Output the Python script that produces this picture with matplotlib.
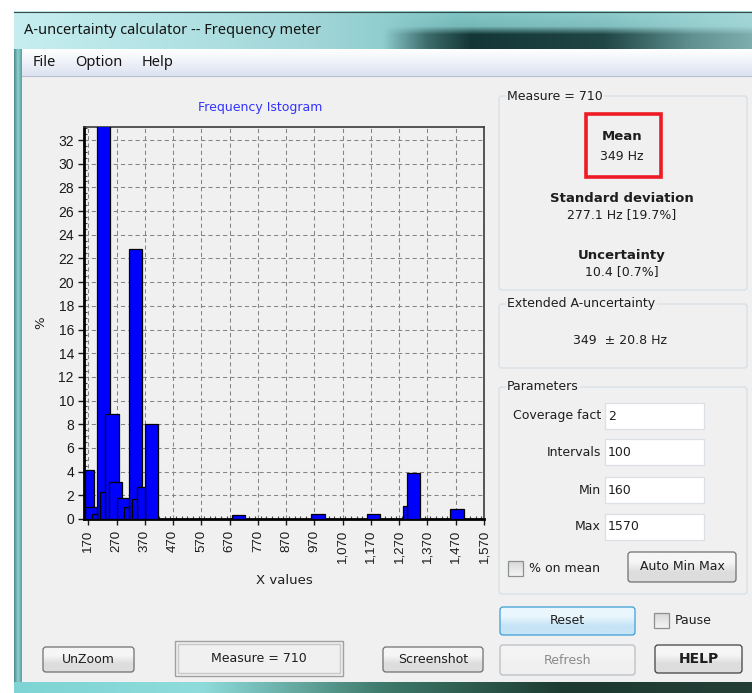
"""
Frequency meter window: histogram of the measured frequencies
plus the statistics panel drawn around it.
"""

import numpy as np
import matplotlib.pyplot as plt
from matplotlib.colors import to_rgb
from matplotlib.patches import Rectangle, FancyBboxPatch
from matplotlib.ticker import MultipleLocator, FuncFormatter

# histogram bars: left edge, right edge (Hz) and share of measures (%)
bin_left = [157, 157, 185, 202, 212, 229, 243, 271, 297, 313, 324, 341, 370,
            679, 959, 1156, 1282, 1296, 1450]
bin_right = [191, 202, 202, 248, 229, 277, 290, 314, 313, 361, 341, 370, 417,
             726, 1009, 1203, 1296, 1343, 1499]
pct = [4.14, 1.0, 0.42, 36.0, 2.3, 8.85, 3.1, 1.75, 1.0, 22.8, 1.66, 2.68, 8.05,
       0.34, 0.45, 0.45, 1.1, 3.9, 0.87]

x_ticks = [170, 270, 370, 470, 570, 670, 770, 870, 970, 1070, 1170, 1270, 1370, 1470, 1570]
x_range = (156, 1570)
y_range = (0, 33.1)

# statistics shown in the right panel
n_measures = 710
mean_hz = "349 Hz"
std_text = "277.1 Hz [19.7%]"
unc_text = "10.4 [0.7%]"
ext_text = "349  \u00b1 20.8 Hz"
param_names = ["Coverage fact", "Intervals", "Min", "Max"]
param_values = ["2", "100", "160", "1570"]

UI = "DejaVu Sans"
W, H = 752, 693

fig = plt.figure(figsize=(W / 100, H / 100), dpi=100)
fig.patch.set_facecolor("white")

# background axes in pixel units for the window chrome
bg = fig.add_axes([0, 0, 1, 1])
bg.set_xlim(0, W)
bg.set_ylim(H, 0)
bg.axis("off")


def ramp(colors, n=64):
    cols = np.array([to_rgb(c) for c in colors])
    t = np.linspace(0, 1, n)
    pos = np.linspace(0, 1, len(cols))
    return np.stack([np.interp(t, pos, cols[:, k]) for k in range(3)], axis=-1)


def gradient(x0, y0, x1, y1, colors, horizontal=True, z=1):
    arr = ramp(colors)
    arr = arr[None, :, :] if horizontal else arr[:, None, :]
    bg.imshow(arr, extent=(x0, x1, y1, y0), aspect="auto", zorder=z,
              interpolation="bilinear")


def box(x, y, w, h, face, edge, lw=1.0, r=3, z=3):
    p = FancyBboxPatch((x, y), w, h, boxstyle=f"round,pad=0,rounding_size={r}",
                       facecolor=face, edgecolor=edge, linewidth=lw, zorder=z)
    bg.add_patch(p)
    return p


def txt(x, y, s, size=8.5, ha="left", weight="normal", color="#1e1e1e",
        family=UI, z=6):
    bg.text(x, y, s, fontsize=size, ha=ha, va="center", fontweight=weight,
            color=color, family=family, zorder=z)


def button(x, y, w, h, s, edge="#707070", top="#f6f6f6", bottom="#dddddd",
           color="#1e1e1e", weight="normal", size=8.5):
    gradient(x, y, x + w, y + h, [top, top, bottom, bottom], horizontal=False, z=3)
    box(x, y, w, h, "none", edge, lw=0.9, r=3, z=4)
    txt(x + w / 2, y + h / 2, s, ha="center", color=color, weight=weight, size=size)


def checkbox(x, y, s):
    gradient(x, y, x + 15, y + 15, ["#d8d8d8", "#f4f4f4"], horizontal=False, z=3)
    bg.add_patch(Rectangle((x, y), 15, 15, facecolor="none", edgecolor="#8e8f8f",
                           linewidth=0.9, zorder=4))
    txt(x + 21, y + 8, s, size=9)


def groupbox(x, y, w, h, title):
    box(x, y, w, h, "#f0f0f0", "#d5dfe5", lw=0.9, r=3, z=2)
    bg.text(x + 8, y, title, fontsize=9, ha="left", va="center", family=UI,
            color="#1e1e1e", zorder=6,
            bbox=dict(facecolor="#f0f0f0", edgecolor="none", pad=1))


# title bar: aero glass with a blurred dark band on the right
tb_w, tb_h = 370, 38
base = ramp(["#c6eef0", "#b4e3e5", "#a2d6d8", "#80c6c6", "#8ccccc", "#a4d8d8"], tb_w)
xs = np.linspace(0, 1, tb_w)
band = np.clip(np.interp(xs, [0, 0.5, 0.56, 0.62, 0.8, 0.92, 1.0],
                         [0, 0, 0.6, 0.95, 0.85, 0.4, 0.25]), 0, 1)
ys = np.linspace(0, 1, tb_h)
vert = np.interp(ys, [0, 0.4, 0.62, 1.0], [0, 0.1, 1, 1])
mask = vert[:, None] * band[None, :]
dark = np.array(to_rgb("#0e2e2e"))
img = base[None, :, :] * (1 - mask[..., None]) + dark * mask[..., None]
bg.imshow(img, extent=(14, W, 49, 11), aspect="auto", zorder=1,
          interpolation="bilinear")
bg.plot([14, W], [11.5, 11.5], color="#3a4a4a", lw=0.8, zorder=2)

# window borders and menu bar
gradient(14, 49, 22, 690, ["#4a8888", "#8fd0d0", "#5aa0a0"], z=1)
gradient(14, 682, W, 693, ["#7ed4d4", "#8fdcdc", "#3e7a6a", "#1c3a30", "#243e36"], z=1)
gradient(22, 49, W, 76, ["#ffffff", "#eef1f8", "#dce2f1"], horizontal=False, z=1)
bg.plot([22, W], [75.5, 75.5], color="#b8c0d0", lw=0.8, zorder=2)
bg.add_patch(Rectangle((22, 76), W - 22, 606, facecolor="#f0f0f0",
                       edgecolor="none", zorder=1))
txt(24, 31, "A-uncertainty calculator -- Frequency meter", size=10.5,
    family="Noto Sans", color="#141414")
for name, xm in zip(["File", "Option", "Help"], [33, 75, 142]):
    txt(xm, 63, name, size=10.5, family="Noto Sans", color="#141414")

# statistics panel
groupbox(499, 96, 248, 194, f"Measure = {n_measures}")
bg.add_patch(Rectangle((586, 114), 75, 63, facecolor="none", edgecolor="#ed1c24",
                       linewidth=2.6, zorder=5))
txt(622, 137, "Mean", weight="bold", ha="center", size=9.5)
txt(622, 157, mean_hz, ha="center", size=9)
txt(622, 198, "Standard deviation", weight="bold", ha="center", size=9.5)
txt(622, 215, std_text, ha="center", size=9)
txt(622, 255, "Uncertainty", weight="bold", ha="center", size=9.5)
txt(622, 272, unc_text, ha="center", size=9)

groupbox(499, 304, 248, 64, "Extended A-uncertainty")
txt(620, 340, ext_text, ha="center", size=9)

groupbox(499, 387, 248, 207, "Parameters")
for k, (name, val) in enumerate(zip(param_names, param_values)):
    yc = [416, 452, 490, 527][k]
    txt(601, yc, name, ha="right", size=9)
    bg.add_patch(Rectangle((605, yc - 13), 99, 26, facecolor="white",
                           edgecolor="#dbdfe6", linewidth=0.9, zorder=4))
    txt(608, yc, val, size=9)
checkbox(508, 561, "% on mean")
button(628, 552, 108, 30, "Auto Min Max", size=9)

button(500, 607, 135, 28, "Reset", edge="#3c9fd6", top="#eaf6fd", bottom="#c6e4f6",
       size=9)
checkbox(654, 613, "Pause")
button(500, 645, 135, 30, "Refresh", edge="#b7bdc2", top="#f4f4f4", bottom="#f0f0f0",
       color="#8a8a8a", size=9)
button(655, 645, 87, 28, "HELP", edge="#404040", weight="bold", size=10)

# bottom row of controls
button(43, 647, 91, 25, "UnZoom", size=9)
bg.add_patch(Rectangle((175, 641), 168, 35, facecolor="#f0f0f0", edgecolor="#a0a0a0",
                       linewidth=1.0, zorder=3))
bg.add_patch(Rectangle((178, 644), 162, 29, facecolor="none", edgecolor="#c8c8c8",
                       linewidth=1.0, zorder=3))
txt(259, 659, f"Measure = {n_measures}", ha="center", size=9)
button(383, 647, 100, 25, "Screenshot", size=9)

# histogram
ax = fig.add_axes([84.3 / W, 1 - 519 / H, (484 - 84.3) / W, (519 - 127) / H])
ax.set_facecolor("#f0f0f0")
ax.set_zorder(10)

order = np.argsort(pct)[::-1]  # tall bars first, narrow ones on top
for z, i in enumerate(order):
    ax.bar(bin_left[i], pct[i], width=bin_right[i] - bin_left[i], align="edge",
           color="#0000ff", edgecolor="black", linewidth=0.9, zorder=3 + z * 0.01)

ax.set_xlim(*x_range)
ax.set_ylim(*y_range)
ax.set_xticks(x_ticks)
ax.xaxis.set_major_formatter(FuncFormatter(lambda v, p: f"{int(v):,}"))
ax.xaxis.set_minor_locator(MultipleLocator(20))
ax.yaxis.set_major_locator(MultipleLocator(2))
ax.yaxis.set_minor_locator(MultipleLocator(0.5))
ax.tick_params(axis="x", which="major", labelrotation=90, labelsize=9.5,
               length=4, width=1, direction="out", colors="#1a1a1a")
ax.tick_params(axis="y", which="major", labelsize=10, length=4, width=1,
               direction="out", colors="#1a1a1a")
ax.tick_params(which="minor", length=2.5, width=0.8, direction="in", colors="#404040")
for lab in ax.get_xticklabels() + ax.get_yticklabels():
    lab.set_family("Liberation Sans")

ax.grid(True, which="major", color="#858585", linewidth=0.75,
        linestyle=(0, (4, 3)), zorder=1)
ax.set_axisbelow(True)

for side in ["left", "bottom"]:
    ax.spines[side].set_linewidth(2.0)
    ax.spines[side].set_color("black")
for side in ["top", "right"]:
    ax.spines[side].set_linewidth(1.2)
    ax.spines[side].set_color("#3a3a3a")

# chart title sits a little left of the axes centre in the original window
txt(260, 108, "Frequency Istogram", ha="center", size=9, color="#3333ff")
ax.set_xlabel("X values", fontsize=9.5, family=UI, color="#1e1e1e", labelpad=8)
ax.set_ylabel("%", fontsize=9.5, family=UI, color="#1e1e1e", labelpad=8)

fig.savefig("out.png", dpi=100)
